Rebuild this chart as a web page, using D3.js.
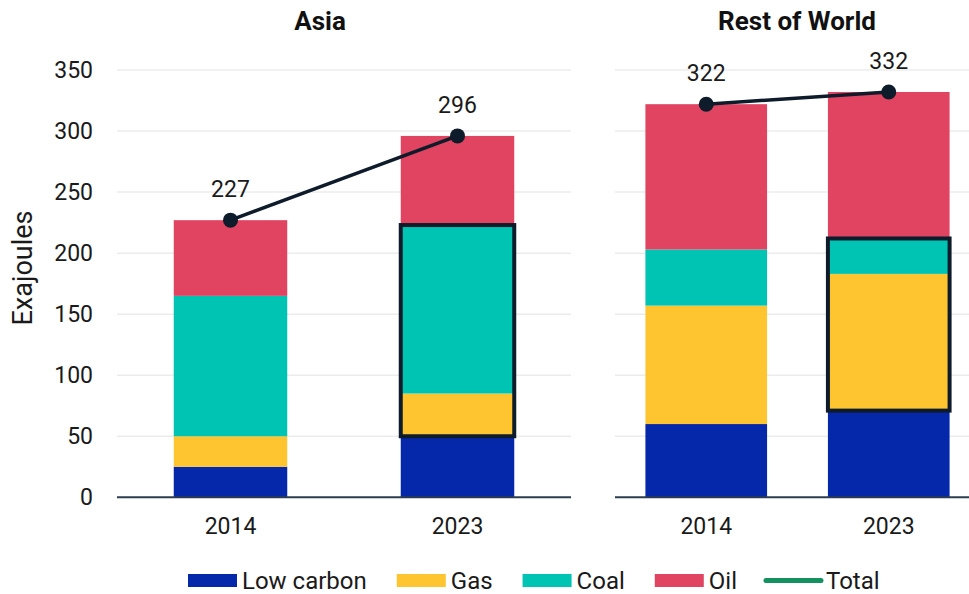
<!DOCTYPE html>
<html>
<head>
<meta charset="utf-8">
<script src="https://cdn.jsdelivr.net/npm/d3@7"></script>
<style>
  html, body { margin: 0; padding: 0; background: #fff; }
  svg { display: block; font-family: Roboto, "Noto Sans", sans-serif; }
</style>
</head>
<body>
<svg id="chart" width="969" height="594"></svg>
<script>
// Primary energy consumption by source, exajoules
const years = ["2014", "2023"];
const sources = ["Low carbon", "Gas", "Coal", "Oil"];
const yTicks = [0, 50, 100, 150, 200, 250, 300, 350];

const asiaLowCarbon = [25, 50];
const asiaGas = [25, 35];
const asiaCoal = [115, 138];
const asiaOil = [62, 73];
const asiaTotal = [227, 296];

const rowLowCarbon = [60, 71];
const rowGas = [97, 112];
const rowCoal = [46, 29];
const rowOil = [119, 120];
const rowTotal = [322, 332];

const colors = {
  "Low carbon": "#0527aa",
  "Gas": "#ffc530",
  "Coal": "#00c4b3",
  "Oil": "#e14461"
};
const ink = "#0d1b2a";
const totalLegendColor = "#13925f";

const panels = [
  { title: "Asia", values: [asiaLowCarbon, asiaGas, asiaCoal, asiaOil], total: asiaTotal,
    range: [117, 571], padIn: 0.5, padOut: 0.25, titleX: 320, showAxis: true },
  { title: "Rest of World", values: [rowLowCarbon, rowGas, rowCoal, rowOil], total: rowTotal,
    range: [615, 980], padIn: 1 / 3, padOut: 1 / 6, titleX: 797, showAxis: false }
];

const svg = d3.select("#chart");
const y = d3.scaleLinear().domain([0, 350]).range([497.3, 70]);

panels.forEach(p => {
  const g = svg.append("g");
  const x = d3.scaleBand().domain(years).range(p.range)
    .paddingInner(p.padIn).paddingOuter(p.padOut);
  const right = Math.min(p.range[1], 969);

  // gridlines
  g.append("g").selectAll("line").data(yTicks.filter(t => t > 0)).join("line")
    .attr("x1", p.range[0]).attr("x2", right)
    .attr("y1", d => y(d)).attr("y2", d => y(d))
    .attr("stroke", "#ececec").attr("stroke-width", 1.5);

  // y axis labels (left panel only)
  if (p.showAxis) {
    const ax = d3.axisLeft(y).tickValues(yTicks).tickSize(0).tickPadding(24);
    const axG = g.append("g").attr("transform", `translate(${p.range[0]},0)`).call(ax);
    axG.select(".domain").remove();
    axG.selectAll("text").attr("font-size", 23).attr("fill", "#1a1a1a")
      .attr("font-family", "Roboto, sans-serif");
  }

  // stacked bars
  const rows = years.map((yr, i) => {
    const r = { year: yr };
    sources.forEach((s, k) => { r[s] = p.values[k][i]; });
    return r;
  });
  const stacked = d3.stack().keys(sources)(rows);
  g.append("g").selectAll("g").data(stacked).join("g")
    .attr("fill", d => colors[d.key])
    .selectAll("rect").data(d => d).join("rect")
    .attr("x", d => x(d.data.year))
    .attr("width", x.bandwidth())
    .attr("y", d => y(d[1]))
    .attr("height", d => y(d[0]) - y(d[1]));

  // outline around gas + coal in 2023
  const last = rows[1];
  const boxLo = last["Low carbon"];
  const boxHi = last["Low carbon"] + last["Gas"] + last["Coal"];
  g.append("rect")
    .attr("x", x("2023"))
    .attr("width", x.bandwidth())
    .attr("y", y(boxHi))
    .attr("height", y(boxLo) - y(boxHi))
    .attr("fill", "none").attr("stroke", ink).attr("stroke-width", 4);

  // baseline
  g.append("line").attr("x1", p.range[0]).attr("x2", right)
    .attr("y1", y(0)).attr("y2", y(0))
    .attr("stroke", "#2b3d4f").attr("stroke-width", 2);

  // x axis labels
  const xAx = d3.axisBottom(x).tickSize(0).tickPadding(20);
  const xG = g.append("g").attr("transform", `translate(0,${y(0)})`).call(xAx);
  xG.select(".domain").remove();
  xG.selectAll("text").attr("font-size", 23).attr("fill", "#1a1a1a")
    .attr("font-family", "Roboto, sans-serif");

  // total line with markers and labels
  const pts = years.map((yr, i) => ({ year: yr, v: p.total[i] }));
  const cx = d => x(d.year) + x.bandwidth() / 2;
  g.append("path").datum(pts)
    .attr("d", d3.line().x(cx).y(d => y(d.v)))
    .attr("fill", "none").attr("stroke", ink).attr("stroke-width", 3.5);
  g.selectAll("circle").data(pts).join("circle")
    .attr("cx", cx).attr("cy", d => y(d.v)).attr("r", 7.5).attr("fill", ink);
  g.selectAll(".tot").data(pts).join("text").attr("class", "tot")
    .attr("x", cx).attr("y", d => y(d.v) - 23)
    .attr("text-anchor", "middle").attr("font-size", 23).attr("fill", "#1a1a1a")
    .text(d => d.v);

  // panel title
  svg.append("text").attr("x", p.titleX).attr("y", 30)
    .attr("text-anchor", "middle").attr("font-size", 26).attr("font-weight", "bold")
    .attr("fill", "#111").text(p.title);
});

// y axis title
svg.append("text")
  .attr("transform", "translate(32,268) rotate(-90)")
  .attr("text-anchor", "middle").attr("font-size", 27).attr("fill", "#1a1a1a")
  .text("Exajoules");

// legend
const legendItems = sources.map(s => ({ label: s, color: colors[s], type: "box" }))
  .concat([{ label: "Total", color: totalLegendColor, type: "line" }]);
const legend = svg.append("g");
let lx = 188;
legendItems.forEach(it => {
  const gi = legend.append("g").attr("transform", `translate(${lx},0)`);
  let tx = 54;
  if (it.type === "box") {
    gi.append("rect").attr("x", 0).attr("y", 574).attr("width", 49).attr("height", 13)
      .attr("fill", it.color);
  } else {
    gi.append("line").attr("x1", -1).attr("x2", 54).attr("y1", 580.5).attr("y2", 580.5)
      .attr("stroke", it.color).attr("stroke-width", 5).attr("stroke-linecap", "round");
    tx = 59;
  }
  const t = gi.append("text").attr("x", tx).attr("y", 589)
    .attr("font-size", 24).attr("fill", "#1a1a1a").text(it.label);
  lx += tx + t.node().getComputedTextLength() + 30;
});
</script>
</body>
</html>
